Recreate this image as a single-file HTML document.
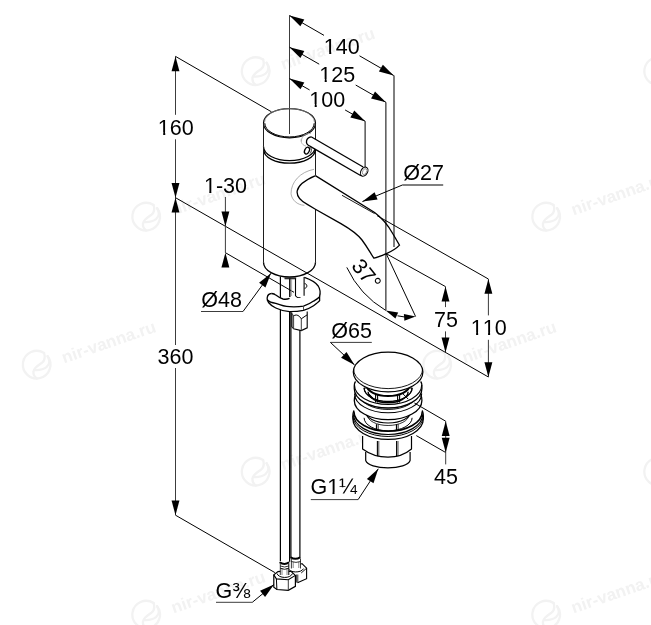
<!DOCTYPE html>
<html><head><meta charset="utf-8"><style>
html,body{margin:0;padding:0;background:#fff;}
svg{display:block;will-change:transform;}
text{font-family:"Liberation Sans", sans-serif;fill:#000;font-kerning:none;}
</style></head><body>
<svg width="651" height="625" viewBox="0 0 651 625">
<rect width="651" height="625" fill="#fff"/>
<g transform="translate(257.5,72.5)" stroke="#f2f2f2" stroke-width="2.3" fill="none" stroke-linecap="round"><path d="M5.6,-13 A13.8,13.8 0 1 0 9.1,-9.8"/><path d="M5.6,-13 C6.8,-9 6.4,-5.5 3.5,-3.3 C0,-0.8 -4.6,1.5 -5,5.5 C-5.4,8.5 -3.8,11 -1.8,12.4"/><path d="M9.1,-9.8 C11.5,-6 11.2,-1.5 8,1.2 C5,3.6 1.5,4.2 -3.6,4"/></g>
<g transform="translate(257.5,72.5) rotate(-19)"><text x="25" y="6" font-size="17" font-weight="bold" style="fill:#f2f2f2">nir-vanna.ru</text></g>
<g transform="translate(148,218)" stroke="#f2f2f2" stroke-width="2.3" fill="none" stroke-linecap="round"><path d="M5.6,-13 A13.8,13.8 0 1 0 9.1,-9.8"/><path d="M5.6,-13 C6.8,-9 6.4,-5.5 3.5,-3.3 C0,-0.8 -4.6,1.5 -5,5.5 C-5.4,8.5 -3.8,11 -1.8,12.4"/><path d="M9.1,-9.8 C11.5,-6 11.2,-1.5 8,1.2 C5,3.6 1.5,4.2 -3.6,4"/></g>
<g transform="translate(148,218) rotate(-19)"><text x="25" y="6" font-size="17" font-weight="bold" style="fill:#f2f2f2">nir-vanna.ru</text></g>
<g transform="translate(548,218)" stroke="#f2f2f2" stroke-width="2.3" fill="none" stroke-linecap="round"><path d="M5.6,-13 A13.8,13.8 0 1 0 9.1,-9.8"/><path d="M5.6,-13 C6.8,-9 6.4,-5.5 3.5,-3.3 C0,-0.8 -4.6,1.5 -5,5.5 C-5.4,8.5 -3.8,11 -1.8,12.4"/><path d="M9.1,-9.8 C11.5,-6 11.2,-1.5 8,1.2 C5,3.6 1.5,4.2 -3.6,4"/></g>
<g transform="translate(548,218) rotate(-19)"><text x="25" y="6" font-size="17" font-weight="bold" style="fill:#f2f2f2">nir-vanna.ru</text></g>
<g transform="translate(38.5,366)" stroke="#f2f2f2" stroke-width="2.3" fill="none" stroke-linecap="round"><path d="M5.6,-13 A13.8,13.8 0 1 0 9.1,-9.8"/><path d="M5.6,-13 C6.8,-9 6.4,-5.5 3.5,-3.3 C0,-0.8 -4.6,1.5 -5,5.5 C-5.4,8.5 -3.8,11 -1.8,12.4"/><path d="M9.1,-9.8 C11.5,-6 11.2,-1.5 8,1.2 C5,3.6 1.5,4.2 -3.6,4"/></g>
<g transform="translate(38.5,366) rotate(-19)"><text x="25" y="6" font-size="17" font-weight="bold" style="fill:#f2f2f2">nir-vanna.ru</text></g>
<g transform="translate(439,366)" stroke="#f2f2f2" stroke-width="2.3" fill="none" stroke-linecap="round"><path d="M5.6,-13 A13.8,13.8 0 1 0 9.1,-9.8"/><path d="M5.6,-13 C6.8,-9 6.4,-5.5 3.5,-3.3 C0,-0.8 -4.6,1.5 -5,5.5 C-5.4,8.5 -3.8,11 -1.8,12.4"/><path d="M9.1,-9.8 C11.5,-6 11.2,-1.5 8,1.2 C5,3.6 1.5,4.2 -3.6,4"/></g>
<g transform="translate(439,366) rotate(-19)"><text x="25" y="6" font-size="17" font-weight="bold" style="fill:#f2f2f2">nir-vanna.ru</text></g>
<g transform="translate(257.5,473)" stroke="#f2f2f2" stroke-width="2.3" fill="none" stroke-linecap="round"><path d="M5.6,-13 A13.8,13.8 0 1 0 9.1,-9.8"/><path d="M5.6,-13 C6.8,-9 6.4,-5.5 3.5,-3.3 C0,-0.8 -4.6,1.5 -5,5.5 C-5.4,8.5 -3.8,11 -1.8,12.4"/><path d="M9.1,-9.8 C11.5,-6 11.2,-1.5 8,1.2 C5,3.6 1.5,4.2 -3.6,4"/></g>
<g transform="translate(257.5,473) rotate(-19)"><text x="25" y="6" font-size="17" font-weight="bold" style="fill:#f2f2f2">nir-vanna.ru</text></g>
<g transform="translate(148,616)" stroke="#f2f2f2" stroke-width="2.3" fill="none" stroke-linecap="round"><path d="M5.6,-13 A13.8,13.8 0 1 0 9.1,-9.8"/><path d="M5.6,-13 C6.8,-9 6.4,-5.5 3.5,-3.3 C0,-0.8 -4.6,1.5 -5,5.5 C-5.4,8.5 -3.8,11 -1.8,12.4"/><path d="M9.1,-9.8 C11.5,-6 11.2,-1.5 8,1.2 C5,3.6 1.5,4.2 -3.6,4"/></g>
<g transform="translate(148,616) rotate(-19)"><text x="25" y="6" font-size="17" font-weight="bold" style="fill:#f2f2f2">nir-vanna.ru</text></g>
<g transform="translate(548,616)" stroke="#f2f2f2" stroke-width="2.3" fill="none" stroke-linecap="round"><path d="M5.6,-13 A13.8,13.8 0 1 0 9.1,-9.8"/><path d="M5.6,-13 C6.8,-9 6.4,-5.5 3.5,-3.3 C0,-0.8 -4.6,1.5 -5,5.5 C-5.4,8.5 -3.8,11 -1.8,12.4"/><path d="M9.1,-9.8 C11.5,-6 11.2,-1.5 8,1.2 C5,3.6 1.5,4.2 -3.6,4"/></g>
<g transform="translate(548,616) rotate(-19)"><text x="25" y="6" font-size="17" font-weight="bold" style="fill:#f2f2f2">nir-vanna.ru</text></g>
<g transform="translate(660,72.5)" stroke="#f2f2f2" stroke-width="2.3" fill="none" stroke-linecap="round"><path d="M5.6,-13 A13.8,13.8 0 1 0 9.1,-9.8"/><path d="M5.6,-13 C6.8,-9 6.4,-5.5 3.5,-3.3 C0,-0.8 -4.6,1.5 -5,5.5 C-5.4,8.5 -3.8,11 -1.8,12.4"/><path d="M9.1,-9.8 C11.5,-6 11.2,-1.5 8,1.2 C5,3.6 1.5,4.2 -3.6,4"/></g>
<g transform="translate(660,72.5) rotate(-19)"><text x="25" y="6" font-size="17" font-weight="bold" style="fill:#f2f2f2">nir-vanna.ru</text></g>
<g transform="translate(660,473)" stroke="#f2f2f2" stroke-width="2.3" fill="none" stroke-linecap="round"><path d="M5.6,-13 A13.8,13.8 0 1 0 9.1,-9.8"/><path d="M5.6,-13 C6.8,-9 6.4,-5.5 3.5,-3.3 C0,-0.8 -4.6,1.5 -5,5.5 C-5.4,8.5 -3.8,11 -1.8,12.4"/><path d="M9.1,-9.8 C11.5,-6 11.2,-1.5 8,1.2 C5,3.6 1.5,4.2 -3.6,4"/></g>
<g transform="translate(660,473) rotate(-19)"><text x="25" y="6" font-size="17" font-weight="bold" style="fill:#f2f2f2">nir-vanna.ru</text></g>
<line x1="289.50" y1="15.50" x2="289.50" y2="134.00" stroke="#3c3c3c" stroke-width="1.0" />
<line x1="289.50" y1="15.50" x2="324.00" y2="35.37" stroke="#000" stroke-width="1.0" />
<line x1="359.50" y1="55.81" x2="393.70" y2="75.50" stroke="#000" stroke-width="1.0" />
<path d="M289.50,15.50 L300.35,26.31 L304.30,19.46 Z" fill="#000"/>
<path d="M393.70,75.50 L382.85,64.69 L378.90,71.54 Z" fill="#000"/>
<line x1="394.00" y1="75.50" x2="394.00" y2="247.00" stroke="#000" stroke-width="1.0" />
<text x="323.87" y="54.00" font-size="21.5" >140</text>
<rect x="324.74" y="52.00" width="4.46" height="3.00" fill="#fff"/>
<rect x="331.25" y="52.00" width="4.35" height="3.00" fill="#fff"/>
<line x1="289.50" y1="47.20" x2="319.20" y2="64.18" stroke="#000" stroke-width="1.0" />
<line x1="355.70" y1="85.04" x2="385.90" y2="102.30" stroke="#000" stroke-width="1.0" />
<path d="M289.50,47.20 L300.39,57.97 L304.31,51.11 Z" fill="#000"/>
<path d="M385.90,102.30 L375.01,91.53 L371.09,98.39 Z" fill="#000"/>
<line x1="385.90" y1="102.30" x2="385.90" y2="310.40" stroke="#000" stroke-width="1.0" />
<text x="319.37" y="81.60" font-size="21.5" >125</text>
<rect x="320.24" y="79.00" width="4.46" height="4.00" fill="#fff"/>
<rect x="326.75" y="79.00" width="4.35" height="4.00" fill="#fff"/>
<line x1="289.50" y1="78.60" x2="309.60" y2="89.94" stroke="#000" stroke-width="1.0" />
<line x1="345.10" y1="109.96" x2="365.20" y2="121.30" stroke="#000" stroke-width="1.0" />
<path d="M289.50,78.60 L300.45,89.31 L304.33,82.43 Z" fill="#000"/>
<path d="M365.20,121.30 L354.25,110.59 L350.37,117.47 Z" fill="#000"/>
<line x1="365.10" y1="121.30" x2="365.10" y2="167.40" stroke="#000" stroke-width="1.0" />
<text x="309.37" y="106.60" font-size="21.5" >100</text>
<rect x="310.24" y="104.00" width="4.46" height="4.00" fill="#fff"/>
<rect x="316.75" y="104.00" width="4.35" height="4.00" fill="#fff"/>
<line x1="175.50" y1="56.40" x2="175.50" y2="114.80" stroke="#3c3c3c" stroke-width="1.0" />
<line x1="175.50" y1="139.30" x2="175.50" y2="345.00" stroke="#3c3c3c" stroke-width="1.0" />
<line x1="175.50" y1="368.00" x2="175.50" y2="515.20" stroke="#3c3c3c" stroke-width="1.0" />
<path d="M175.50,56.40 L171.55,71.20 L179.45,71.20 Z" fill="#000"/>
<path d="M175.50,197.70 L179.45,182.90 L171.55,182.90 Z" fill="#000"/>
<path d="M175.50,197.70 L171.55,212.50 L179.45,212.50 Z" fill="#000"/>
<path d="M175.50,515.20 L179.45,500.40 L171.55,500.40 Z" fill="#000"/>
<line x1="175.50" y1="56.40" x2="271.50" y2="111.83" stroke="#000" stroke-width="1.0" />
<text x="157.87" y="134.50" font-size="21.5" >160</text>
<rect x="158.74" y="132.00" width="4.46" height="4.00" fill="#fff"/>
<rect x="165.25" y="132.00" width="4.35" height="4.00" fill="#fff"/>
<text x="157.48" y="364.40" font-size="21.5" >360</text>
<line x1="175.50" y1="197.70" x2="488.40" y2="377.00" stroke="#000" stroke-width="1.0" />
<line x1="175.50" y1="515.20" x2="274.90" y2="572.59" stroke="#000" stroke-width="1.0" />
<line x1="225.40" y1="197.00" x2="225.40" y2="252.70" stroke="#3c3c3c" stroke-width="1.0" />
<path d="M225.40,226.29 L229.35,211.49 L221.45,211.49 Z" fill="#000"/>
<path d="M225.40,252.70 L221.45,267.50 L229.35,267.50 Z" fill="#000"/>
<line x1="225.40" y1="252.70" x2="294.00" y2="292.31" stroke="#000" stroke-width="1.0" />
<text x="203.97" y="192.90" font-size="21.5" >1-30</text>
<rect x="204.84" y="191.00" width="4.46" height="3.00" fill="#fff"/>
<rect x="211.35" y="191.00" width="4.35" height="3.00" fill="#fff"/>
<text x="201.25" y="306.60" font-size="21.5" >Ø48</text>
<line x1="201.00" y1="311.50" x2="243.00" y2="311.50" stroke="#3c3c3c" stroke-width="1.0" />
<line x1="243.00" y1="311.50" x2="271.00" y2="273.20" stroke="#000" stroke-width="1.0" />
<path d="M271.00,273.20 L259.08,282.82 L265.45,287.48 Z" fill="#000"/>
<text x="403.25" y="179.90" font-size="21.5" >Ø27</text>
<line x1="402.40" y1="185.00" x2="443.20" y2="185.00" stroke="#000" stroke-width="1.2" />
<line x1="402.40" y1="185.00" x2="362.40" y2="201.60" stroke="#000" stroke-width="1.0" />
<path d="M362.40,201.60 L377.58,199.58 L374.56,192.28 Z" fill="#000"/>
<ellipse cx="289.5" cy="123.2" rx="26.0" ry="14.65" stroke="#000" stroke-width="1.2" fill="none"/>
<path d="M264.8,123.2 A24.7,13.75 0 0 0 314.2,123.2" stroke="#000" stroke-width="1.0" fill="none"/>
<path d="M264.7,121.8 A24.8,13.2 0 0 1 314.3,121.8" stroke="#888" stroke-width="0.8" fill="none"/>
<line x1="263.50" y1="123.20" x2="263.50" y2="146.50" stroke="#1e1e1e" stroke-width="1.05" />
<line x1="315.50" y1="123.20" x2="315.50" y2="175.60" stroke="#1e1e1e" stroke-width="1.05" />
<path d="M263.5,146.5 A26.0,14.1 0 0 0 315.5,146.5" stroke="#000" stroke-width="1.3" fill="none" />
<path d="M263.8,150 A25.7,13.2 0 0 0 315.2,150" stroke="#000" stroke-width="1.3" fill="none" />
<line x1="263.50" y1="146.50" x2="263.50" y2="262.20" stroke="#1e1e1e" stroke-width="1.05" />
<line x1="315.50" y1="209.40" x2="315.50" y2="262.20" stroke="#1e1e1e" stroke-width="1.05" />
<path d="M263.5,262.2 A26.0,14.8 0 0 0 315.5,262.2" stroke="#000" stroke-width="1.3" fill="none" />
<path d="M301.5,141.6 C301,136 306,133 311,133.6" stroke="#aaa" stroke-width="0.9" fill="none"/>
<path d="M306,146.1 C301,145 300.5,140 301.5,139" stroke="#aaa" stroke-width="0.9" fill="none"/>
<path d="M311.1,136.8 L363.2,167.0 L361.0,175.8 L309.8,146.1 C304.5,144 306,137.5 311.1,136.8 Z" stroke="#fff" stroke-width="0.01" fill="#fff" />
<path d="M311.1,136.8 L363.2,167.0" stroke="#000" stroke-width="1.3" fill="none" />
<path d="M309.8,146.1 L361.0,175.8" stroke="#000" stroke-width="1.3" fill="none" />
<path d="M311.1,136.8 C306,137.5 304.5,144 309.8,146.1" stroke="#000" stroke-width="1.3" fill="none" />
<ellipse cx="364.2" cy="171.7" rx="3.3" ry="4.9" transform="rotate(30 364.2 171.7)" stroke="#000" stroke-width="1.1" fill="#fff"/>
<ellipse cx="364.6" cy="171.6" rx="1.9" ry="3.2" transform="rotate(30 364.6 171.6)" stroke="#888" stroke-width="0.8" fill="none"/>
<ellipse cx="307" cy="150.6" rx="2.3" ry="3.6" transform="rotate(25 307 150.6)" stroke="#000" stroke-width="1.3" fill="none"/>
<path d="M310.5,147.5 C312,149 311.5,152 310,153.5" stroke="#000" stroke-width="0.8" fill="none"/>
<path d="M315.4,175.6 L374.6,212.5 C380,216.5 388,225 393,234 L399.5,245.1 C396,249 390,252 386.4,253.6 C382,255.5 377,257.5 373.9,258.2 C371.5,255 368,248 362,240 C357,233.5 352,230 340.9,223.6 L315.4,209.2 L307.3,204.4 C300,200.5 296.5,196 297.2,191 C298,186 303,181 315,175.8" stroke="#000" stroke-width="1.3" fill="none" />
<path d="M342,195.3 L374.6,213.6" stroke="#000" stroke-width="0.9" fill="none" />
<path d="M314,169.3 C300,172 291,182 291,193.8 C292,200 297,205 304.4,205.3" stroke="#999" stroke-width="0.8" fill="none"/>
<line x1="377.10" y1="215.70" x2="488.40" y2="279.00" stroke="#000" stroke-width="1.0" />
<line x1="386.20" y1="253.60" x2="415.60" y2="316.50" stroke="#000" stroke-width="1.0" />
<line x1="386.20" y1="253.60" x2="445.50" y2="286.60" stroke="#000" stroke-width="1.0" />
<path d="M346.8,267.4 A99,99 0 0 0 385.7,310.4" stroke="#000" stroke-width="1.0" fill="none" />
<line x1="397.50" y1="315.80" x2="404.80" y2="317.00" stroke="#000" stroke-width="1.0" />
<path d="M385.70,310.40 L395.41,318.49 L398.16,312.49 Z" fill="#000"/>
<path d="M415.60,316.50 L403.88,314.11 L404.39,320.69 Z" fill="#000"/>
<text transform="translate(350.6,266.3) rotate(51)" font-size="21.5">37°</text>
<line x1="445.50" y1="286.60" x2="445.50" y2="307.10" stroke="#3c3c3c" stroke-width="1.0" />
<line x1="445.50" y1="331.40" x2="445.50" y2="352.42" stroke="#3c3c3c" stroke-width="1.0" />
<path d="M445.50,286.60 L441.55,301.40 L449.45,301.40 Z" fill="#000"/>
<path d="M445.50,352.42 L449.45,337.62 L441.55,337.62 Z" fill="#000"/>
<text x="434.10" y="327.00" font-size="21.5" >75</text>
<line x1="488.40" y1="279.00" x2="488.40" y2="315.40" stroke="#3c3c3c" stroke-width="1.0" />
<line x1="488.40" y1="339.80" x2="488.40" y2="377.00" stroke="#3c3c3c" stroke-width="1.0" />
<path d="M488.40,279.00 L484.45,293.80 L492.35,293.80 Z" fill="#000"/>
<path d="M488.40,377.00 L492.35,362.20 L484.45,362.20 Z" fill="#000"/>
<text x="470.77" y="334.60" font-size="21.5" >110</text>
<rect x="471.64" y="332.00" width="4.46" height="4.00" fill="#fff"/>
<rect x="478.15" y="332.00" width="4.35" height="4.00" fill="#fff"/>
<rect x="483.59" y="332.00" width="4.46" height="4.00" fill="#fff"/>
<rect x="490.10" y="332.00" width="4.35" height="4.00" fill="#fff"/>
<line x1="280.40" y1="276.50" x2="280.40" y2="563.00" stroke="#000" stroke-width="1.2" />
<line x1="289.60" y1="300.00" x2="289.60" y2="562.00" stroke="#000" stroke-width="1.2" />
<line x1="290.90" y1="311.00" x2="290.90" y2="558.00" stroke="#000" stroke-width="1.2" />
<line x1="299.90" y1="330.00" x2="299.90" y2="558.00" stroke="#000" stroke-width="1.2" />
<line x1="284.60" y1="278.10" x2="296.10" y2="278.10" stroke="#000" stroke-width="1.0" />
<line x1="284.60" y1="278.80" x2="296.10" y2="278.80" stroke="#000" stroke-width="0.8" />
<line x1="289.80" y1="278.40" x2="289.80" y2="297.00" stroke="#000" stroke-width="1.4" />
<line x1="291.60" y1="279.00" x2="291.60" y2="296.00" stroke="#888" stroke-width="0.7" />
<path d="M295.5,278.4 L295.5,295.7 C296.5,297.8 299,298 300.6,297.4" stroke="#000" stroke-width="1.1" fill="none" />
<path d="M304.4,277.4 C309.6,279.2 315,281.5 318.2,286 C320.5,289.5 320.3,294 319.6,296.5 L319.6,300.7 C316,303.5 313.6,305.7 308,308.5 C303.5,310.3 296,311.7 289.6,311.7 C282,311.2 276,308.5 271.5,305 C269,303.5 268,302.5 267.1,299.7 L267.2,297.8 C267.5,295 269.5,293.6 271.7,293.5 C273.5,293.6 275,294.3 275.8,295.1 C278,296.8 280.4,298.4 283,299 C285,299.4 287.5,299.2 289.8,298.4 L295.2,296.5 C297,298.2 299,298.2 300.5,297.8 L304.1,295.7 Z" stroke="#fff" stroke-width="0.01" fill="#fff" />
<line x1="304.10" y1="277.10" x2="304.10" y2="295.70" stroke="#000" stroke-width="1.1" />
<path d="M304.6,283.6 C307.6,283.8 307.6,288 304.6,288.3" stroke="#000" stroke-width="1.0" fill="none" />
<path d="M271.7,293.5 C269.5,293.6 267.5,295 267.2,297.8 C267,299 267.2,299.5 267.5,300 C269,301.8 272,302.8 275.8,303.4 C280,305 285,306.5 289.6,306.7 C295,306.9 300,306.7 303.5,306.2 C307.5,304.8 311,303 313.6,301.1 C317,299 319.2,297.8 319.6,296.5 C320.5,293 320.5,289.5 318.2,286 C315,281.5 309.6,279.2 304.4,277.4" stroke="#000" stroke-width="1.3" fill="none" />
<path d="M271.7,293.5 C273.5,293.6 275,294.3 275.8,295.1 C278,296.8 280.4,298.4 283,299 C285,299.4 287.5,299.2 289.6,298.4" stroke="#000" stroke-width="1.3" fill="none" />
<path d="M267.2,299.7 L268.5,302.5 C270.5,305 273,306.8 275.8,308 C280,310 285,311.4 289.6,311.7 C295,311.8 299.5,311.2 303.5,310.3 C307.5,309 311,307.5 313.6,305.7 C316,304 318.5,302.2 319.6,300.7 L319.6,296.5" stroke="#000" stroke-width="1.3" fill="none" />
<line x1="303.50" y1="306.40" x2="303.50" y2="310.20" stroke="#3c3c3c" stroke-width="0.9" />
<path d="M291.8,312 L307.4,312 L307.4,327.6 L301.3,330.6 L293.6,328.8 L291.8,326.5 Z" stroke="#fff" stroke-width="0.01" fill="#fff" />
<path d="M291.8,312.5 L291.8,326.5 L293.6,328.8 L301.3,330.6 L307.2,327.8 L307.2,311.5" stroke="#000" stroke-width="1.1" fill="none" />
<line x1="293.60" y1="316.00" x2="293.60" y2="328.80" stroke="#3c3c3c" stroke-width="1.0" />
<line x1="301.30" y1="318.80" x2="301.30" y2="330.60" stroke="#3c3c3c" stroke-width="1.0" />
<path d="M293.6,316 C295,314.6 297.5,314.6 299.5,316.5 L301.3,318.8 L307.2,314.8" stroke="#000" stroke-width="1.0" fill="none" />
<path d="M291.8,313.5 L293.6,316" stroke="#000" stroke-width="0.9" fill="none" />
<line x1="292.70" y1="314.00" x2="292.70" y2="327.50" stroke="#666" stroke-width="0.8" />
<path d="M291.4,558 L300.7,558 L300.7,564 L302,563.6 L306.6,568.2 L306.6,578.7 L297.5,582.8 L291,580 Z" stroke="#fff" stroke-width="0.01" fill="#fff" />
<path d="M290.6,557.3 Q295.4,560.3 300.1,557.3" stroke="#000" stroke-width="2.0" fill="none" />
<line x1="291.40" y1="558.50" x2="291.40" y2="568.50" stroke="#3c3c3c" stroke-width="1.0" />
<line x1="300.50" y1="558.50" x2="300.50" y2="568.50" stroke="#3c3c3c" stroke-width="1.0" />
<line x1="293.20" y1="562.00" x2="293.20" y2="568.00" stroke="#666" stroke-width="0.8" />
<line x1="298.80" y1="562.00" x2="298.80" y2="568.00" stroke="#666" stroke-width="0.8" />
<path d="M291.4,561.5 Q296,563.3 300.5,561.5" stroke="#000" stroke-width="0.8" fill="none" />
<path d="M300.6,564.2 L302,563.6 L306.6,568.2 L306.6,578.7 L297.5,582.8" stroke="#000" stroke-width="1.1" fill="none" />
<path d="M288.5,568.8 C289.5,572.5 301,573.5 303.6,568.6" stroke="#000" stroke-width="1.0" fill="none" />
<path d="M301.2,573 L306.6,568.2" stroke="#000" stroke-width="0.9" fill="none" />
<line x1="296.60" y1="574.50" x2="296.60" y2="582.60" stroke="#3c3c3c" stroke-width="1.0" />
<line x1="297.80" y1="574.50" x2="297.80" y2="582.60" stroke="#000" stroke-width="0.8" />
<path d="M279.5,561 L289.2,561 L289.2,571 L291,571.3 L295.4,575.4 L295.4,586.4 L288.3,590.3 L276.9,589.5 L273.8,587.3 L273.8,574.9 L278,571.5 Z" stroke="#fff" stroke-width="0.01" fill="#fff" />
<path d="M279.6,562.2 Q284.4,565.6 289.1,562.2" stroke="#000" stroke-width="2.0" fill="none" />
<line x1="280.30" y1="563.50" x2="280.30" y2="575.00" stroke="#3c3c3c" stroke-width="1.0" />
<line x1="288.80" y1="563.50" x2="288.80" y2="575.00" stroke="#000" stroke-width="1.0" />
<line x1="282.00" y1="568.00" x2="282.00" y2="575.00" stroke="#666" stroke-width="0.8" />
<line x1="287.00" y1="568.00" x2="287.00" y2="575.00" stroke="#666" stroke-width="0.8" />
<path d="M280.3,566 Q284.6,568 288.8,566" stroke="#000" stroke-width="0.8" fill="none" />
<path d="M280.3,568.3 Q284.6,570.3 288.8,568.3" stroke="#000" stroke-width="0.9" fill="none" />
<path d="M280.3,571.4 L278,571.6 L273.8,574.9 L273.8,587.3 L276.9,589.5 L288.3,590.3 L295.4,586.4 L295.4,575.4 L291,571.3 L288.8,571.3" stroke="#000" stroke-width="1.2" fill="none" />
<path d="M273.8,574.9 L276.4,578.9 L288.3,579.8 L295.4,575.4" stroke="#000" stroke-width="1.1" fill="none" />
<line x1="276.40" y1="578.90" x2="276.90" y2="589.50" stroke="#000" stroke-width="1.0" />
<line x1="288.30" y1="579.80" x2="288.30" y2="590.30" stroke="#3c3c3c" stroke-width="1.0" />
<path d="M277,573.5 C278.5,578.5 290.5,579 292.5,573.5" stroke="#000" stroke-width="1.0" fill="none" />
<text x="215.53" y="597.50" font-size="21.5" >G⅜</text>
<line x1="216.00" y1="602.30" x2="252.30" y2="602.30" stroke="#3c3c3c" stroke-width="1.0" />
<line x1="252.30" y1="602.30" x2="274.00" y2="584.50" stroke="#000" stroke-width="1.0" />
<path d="M274.00,584.50 L260.05,590.83 L265.06,596.94 Z" fill="#000"/>
<path d="M365.7,452 L365.7,460.5 A22.4,8.6 0 0 0 410.1,460.5 L410.1,452" stroke="#000" stroke-width="1.2" fill="#fff" />
<path d="M362.6,436 L362.6,449 C370,454.5 380,457.2 388,457.2 C396,457.2 405,454.5 411.5,449 L411.5,436" stroke="#000" stroke-width="1.2" fill="#fff" />
<line x1="377.40" y1="441.00" x2="377.40" y2="456.30" stroke="#000" stroke-width="1.1" />
<line x1="378.80" y1="441.00" x2="378.80" y2="456.50" stroke="#000" stroke-width="0.7" />
<line x1="396.60" y1="441.00" x2="396.60" y2="456.50" stroke="#000" stroke-width="1.1" />
<line x1="398.00" y1="441.00" x2="398.00" y2="456.30" stroke="#000" stroke-width="0.7" />
<path d="M354.20,410.50 Q352.60,412.00 352.90,419.10 A35.2,20.3 0 0 0 423.30,419.10 Q423.60,412.00 422.00,410.50" stroke="#000" stroke-width="1.3" fill="#fff" />
<path d="M352.90,416.20 A35.2,20.3 0 0 0 423.30,416.20" stroke="#000" stroke-width="1.0" fill="none" />
<path d="M353.50,414.50 A34.6,20 0 0 0 422.70,414.50" stroke="#000" stroke-width="1.2" fill="none" />
<path d="M353.90,411.50 A34.2,19.8 0 0 0 422.30,411.50" stroke="#000" stroke-width="1.6" fill="none" />
<path d="M364.10,417.80 A24,13 0 0 0 412.10,417.80" stroke="#000" stroke-width="1.0" fill="none" />
<path d="M365.10,411.00 A23,12 0 0 0 411.10,411.00" stroke="#000" stroke-width="1.1" fill="none" />
<line x1="376.50" y1="424.20" x2="376.50" y2="430.50" stroke="#000" stroke-width="1.2" />
<line x1="378.20" y1="424.20" x2="378.20" y2="430.60" stroke="#000" stroke-width="0.8" />
<line x1="396.50" y1="424.20" x2="396.50" y2="430.60" stroke="#000" stroke-width="1.2" />
<line x1="398.20" y1="424.20" x2="398.20" y2="430.50" stroke="#000" stroke-width="0.8" />
<path d="M367.10,414.50 A21,11 0 0 0 409.10,414.50" stroke="#000" stroke-width="0.8" fill="none" />
<path d="M355.60,395.50 Q354.00,397.00 354.30,400.40 A33.8,19.3 0 0 0 421.90,400.40 Q422.20,397.00 420.60,395.50" stroke="#000" stroke-width="1.3" fill="#fff" />
<path d="M354.50,393.40 A33.6,19.4 0 0 0 421.70,393.40" stroke="#000" stroke-width="1.1" fill="none" />
<path d="M359.10,393.50 A29,16 0 0 0 417.10,393.50" stroke="#000" stroke-width="0.9" fill="none" />
<path d="M355.60,381.50 Q354.00,383.00 354.30,388.70 A33.8,19.3 0 0 0 421.90,388.70 Q422.20,383.00 420.60,381.50" stroke="#000" stroke-width="1.3" fill="#fff" />
<path d="M354.50,385.10 A33.6,19.4 0 0 0 421.70,385.10" stroke="#000" stroke-width="1.1" fill="none" />
<path d="M364.1,388 A24,13.6 0 0 0 412.1,388 Z" stroke="#000" stroke-width="1" fill="#fff"/>
<path d="M364.10,387.80 A24,13.6 0 0 0 412.10,387.80" stroke="#000" stroke-width="1.2" fill="none" />
<path d="M366.60,385.00 A21.5,11 0 0 0 409.60,385.00" stroke="#000" stroke-width="2.0" fill="none" />
<path d="M368.10,391.80 A20,11 0 0 0 408.10,391.80" stroke="#000" stroke-width="1.4" fill="none" />
<path d="M375.6,395 L375.6,402.5 M377.6,395 L377.6,402.5 M397.6,395 L397.6,402.5 M399.6,395 L399.6,402.5" stroke="#000" stroke-width="1.1" fill="none" />
<path d="M368.1,393 L374.1,399 M402.1,393 L408.1,399" stroke="#000" stroke-width="1.0" fill="none" />
<ellipse cx="388.1" cy="372.0" rx="34.8" ry="19.9" stroke="#000" stroke-width="1.25" fill="#fff"/>
<path d="M353.60,369.20 A34.5,19.4 0 0 0 422.60,369.20" stroke="#000" stroke-width="0.9" fill="none" />
<text x="331.25" y="337.70" font-size="21.5" >Ø65</text>
<line x1="330.40" y1="342.40" x2="371.80" y2="342.40" stroke="#3c3c3c" stroke-width="1.0" />
<line x1="330.40" y1="342.40" x2="354.60" y2="365.00" stroke="#000" stroke-width="1.0" />
<path d="M354.60,365.00 L346.48,352.01 L341.09,357.79 Z" fill="#000"/>
<line x1="414.40" y1="403.00" x2="445.70" y2="421.20" stroke="#000" stroke-width="1.0" />
<line x1="416.30" y1="435.60" x2="445.70" y2="452.50" stroke="#000" stroke-width="1.0" />
<line x1="445.70" y1="421.20" x2="445.70" y2="464.40" stroke="#3c3c3c" stroke-width="1.0" />
<path d="M445.70,421.20 L441.75,436.00 L449.65,436.00 Z" fill="#000"/>
<path d="M445.70,452.50 L449.65,437.70 L441.75,437.70 Z" fill="#000"/>
<text x="434.01" y="483.60" font-size="21.5" >45</text>
<text x="310.43" y="494.10" font-size="21.5" >G1¼</text>
<rect x="328.02" y="492.00" width="4.46" height="4.00" fill="#fff"/>
<rect x="334.53" y="492.00" width="4.35" height="4.00" fill="#fff"/>
<rect x="339.23" y="486.75" width="2.63" height="1.52" fill="#fff"/>
<rect x="343.34" y="486.75" width="2.73" height="1.52" fill="#fff"/>
<line x1="310.80" y1="499.60" x2="358.10" y2="499.60" stroke="#3c3c3c" stroke-width="1.0" />
<line x1="358.10" y1="499.60" x2="378.30" y2="468.80" stroke="#000" stroke-width="1.0" />
<path d="M378.30,468.80 L366.88,479.01 L373.49,483.34 Z" fill="#000"/>
</svg></body></html>
